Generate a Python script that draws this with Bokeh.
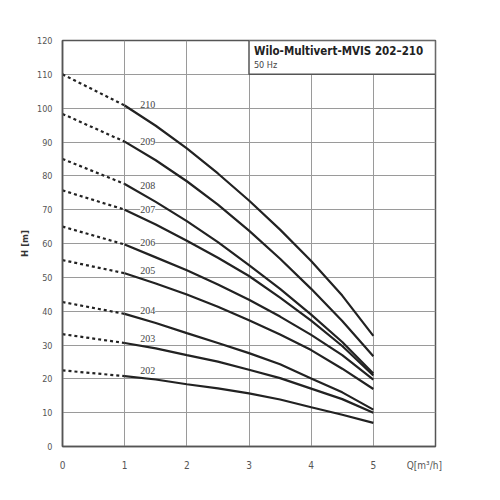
from bokeh.plotting import figure
from bokeh.models import ColumnDataSource, LabelSet, FixedTicker, Range1d
from bokeh.embed import file_html
from bokeh.resources import INLINE
from bokeh.core.properties import value

FONT = "Liberation Sans Narrow, DejaVu Sans Condensed, Roboto, sans-serif"

# flow rates (m3/h) on the solid part of each curve
q_solid = [1, 1.5, 2, 2.5, 3, 3.5, 4, 4.5, 5]
q_dotted = [0, 1]

models = ["210", "209", "208", "207", "206", "205", "204", "203", "202"]

h_shutoff = [110.0, 98.3, 85.0, 75.7, 65.0, 55.1, 42.7, 33.2, 22.5]

h_210 = [100.8, 94.8, 88.1, 80.7, 72.7, 64.1, 54.8, 44.6, 32.7]
h_209 = [90.1, 84.6, 78.4, 71.5, 63.8, 55.5, 46.6, 37.1, 26.7]
h_208 = [77.6, 72.3, 66.6, 60.4, 53.6, 46.6, 39.0, 30.9, 21.6]
h_207 = [70.0, 65.6, 60.8, 55.8, 50.4, 44.0, 37.2, 29.7, 21.0]
h_206 = [59.7, 55.9, 52.1, 47.9, 43.4, 38.4, 33.0, 27.0, 19.8]
h_205 = [51.2, 48.2, 44.9, 41.3, 37.3, 33.1, 28.5, 23.0, 17.0]
h_204 = [39.2, 36.5, 33.5, 30.6, 27.6, 24.3, 20.1, 16.0, 10.9]
h_203 = [30.6, 29.0, 27.0, 25.1, 22.7, 20.2, 17.1, 14.0, 10.0]
h_202 = [20.8, 19.8, 18.4, 17.2, 15.7, 13.9, 11.6, 9.4, 7.0]

curves = [h_210, h_209, h_208, h_207, h_206, h_205, h_204, h_203, h_202]

label_q = [1.37] * 9
label_h = [101.1, 90.2, 77.2, 70.0, 60.2, 52.1, 40.3, 31.8, 22.6]

x_ticks = [0, 1, 2, 3, 4, 5]
x_unit_pos = 5.82
x_unit_text = "Q[m\u00b3/h]"
y_ticks = list(range(0, 121, 10))

title_text = "Wilo-Multivert-MVIS 202\u2013210"
subtitle_text = "50 Hz"

p = figure(width=480, height=486, output_backend="svg", toolbar_location=None,
           x_range=Range1d(0, 6), y_range=Range1d(0, 120),
           min_border_left=62, min_border_top=40, min_border_right=45,
           min_border_bottom=40)
p.background_fill_color = "white"
p.border_fill_color = "white"
p.outline_line_color = "#555555"
p.outline_line_width = 1.5

p.xaxis.ticker = FixedTicker(ticks=x_ticks + [x_unit_pos])
p.xaxis.major_label_overrides = {x_unit_pos: x_unit_text}
p.yaxis.ticker = FixedTicker(ticks=y_ticks)
p.xgrid.ticker = FixedTicker(ticks=[1, 2, 3, 4, 5])
p.ygrid.ticker = FixedTicker(ticks=list(range(10, 120, 10)))
for g in (p.xgrid, p.ygrid):
    g.grid_line_color = "#9a9a9a"
    g.grid_line_width = 1

for ax in (p.xaxis, p.yaxis):
    ax.axis_line_color = "#555555"
    ax.axis_line_width = 1.5
    ax.major_tick_line_color = None
    ax.minor_tick_line_color = None
    ax.major_label_text_font = FONT
    ax.major_label_text_color = "#555555"
p.xaxis.major_label_text_font_size = "10px"
p.yaxis.major_label_text_font_size = "9px"
p.xaxis.major_label_standoff = 7
p.yaxis.major_label_standoff = 4

p.yaxis.axis_label = "H [m]"
p.yaxis.axis_label_text_font = FONT
p.yaxis.axis_label_text_font_size = "9.5px"
p.yaxis.axis_label_text_font_style = "bold"
p.yaxis.axis_label_text_color = "#333333"
p.yaxis.axis_label_standoff = 4

# title box
p.quad(left=[3], right=[6], bottom=[110], top=[120], fill_color="white",
       line_color="#555555", line_width=1.5)
p.text(x=[3.08], y=[116.8], text=[title_text], text_font=value(FONT),
       text_font_size="11.5px", text_font_style="bold", text_color="#222222",
       text_baseline="middle")
p.text(x=[3.08], y=[112.7], text=[subtitle_text], text_font=value(FONT),
       text_font_size="9px", text_color="#444444", text_baseline="middle")

for h0, hc in zip(h_shutoff, curves):
    p.line(q_dotted, [h0, hc[0]], line_color="#222222", line_width=2.2,
           line_dash="3 3")
    p.line(q_solid, hc, line_color="#222222", line_width=2.2)

src = ColumnDataSource(dict(x=label_q, y=label_h, t=models))
p.add_layout(LabelSet(x="x", y="y", text="t", source=src, text_align="center",
                      text_baseline="middle", text_font=FONT,
                      text_font_size="10px", text_color="#444444",
                      background_fill_color="white"))

open("out.html", "w").write(file_html(p, INLINE))
